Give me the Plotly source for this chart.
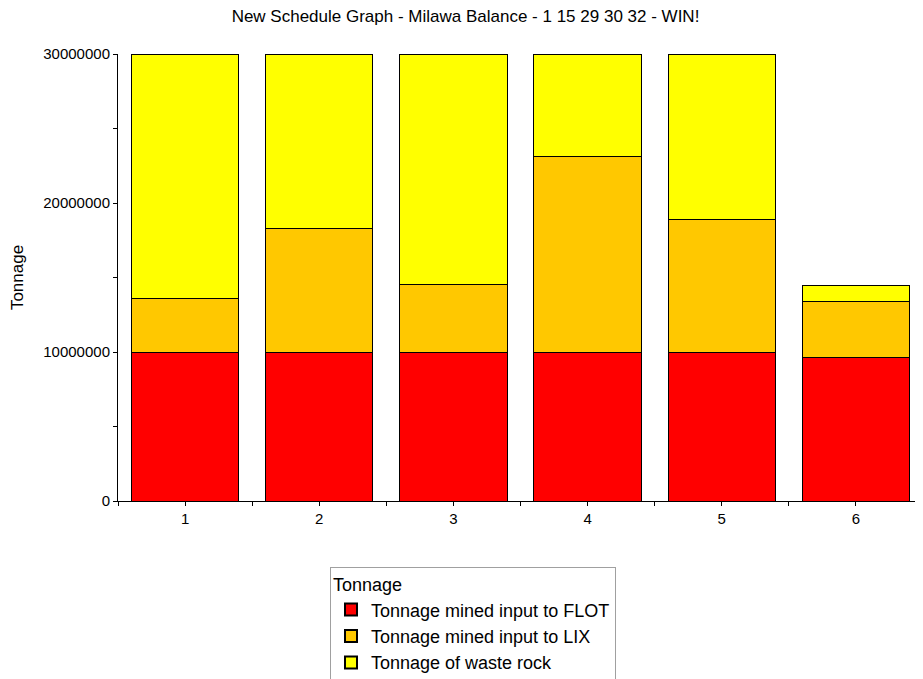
import plotly.graph_objects as go

periods = [1, 2, 3, 4, 5, 6]
flot = [10000000, 10000000, 10000000, 10000000, 10000000, 9600000]
lix = [3620000, 8320000, 4500000, 13090000, 8860000, 3760000]
waste = [16380000, 11680000, 15500000, 6910000, 11140000, 1070000]
series_names = ["Tonnage mined input to FLOT", "Tonnage mined input to LIX", "Tonnage of waste rock"]
colors = ["#FF0000", "#FFC800", "#FFFF00"]

fig = go.Figure()
for name, vals, col in zip(series_names, [flot, lix, waste], colors):
    fig.add_trace(go.Bar(x=periods, y=vals, name=name, width=0.8,
                         marker=dict(color=col, line=dict(color="#000000", width=1))))

font_family = "Liberation Sans, Arial, sans-serif"
W, H = 915, 671
fig.update_layout(
    barmode="stack",
    width=W, height=H,
    margin=dict(l=110, r=0, t=46, b=178),
    plot_bgcolor="white", paper_bgcolor="white",
    font=dict(family=font_family, size=15, color="#000000"),
    title=dict(text="New Schedule Graph - Milawa Balance - 1 15 29 30 32 - WIN!",
               x=0.5, xanchor="center", yref="container", y=1 - 8 / H, yanchor="middle",
               font=dict(size=17, color="#000000")),
    xaxis=dict(range=[0.5, 6.5], tickvals=periods, ticktext=[str(p) for p in periods],
               showline=True, linecolor="#000000", linewidth=1,
               ticks="outside", ticklen=4, tickcolor="#000000",
               minor=dict(dtick=0.5, tick0=0.5, ticks="outside", ticklen=4, tickcolor="#000000"),
               showgrid=False, zeroline=False, tickfont=dict(size=15)),
    yaxis=dict(range=[0, 30000000], tickvals=[0, 10000000, 20000000, 30000000],
               ticktext=["0", "10000000", "20000000", "30000000"],
               showline=True, linecolor="#000000", linewidth=1,
               ticks="outside", ticklen=4, tickcolor="#000000",
               minor=dict(dtick=5000000, ticks="outside", ticklen=4, tickcolor="#000000"),
               showgrid=False, zeroline=False, tickfont=dict(size=15),
               title=dict(text="Tonnage", font=dict(size=17), standoff=18)),
    legend=dict(title=dict(text="Tonnage", font=dict(size=18)),
                xref="paper", yref="container",
                x=(330 - 118) / 805, xanchor="left", y=1 - (567 - 8) / H, yanchor="top",
                bordercolor="#A0A0A0", borderwidth=1, bgcolor="white",
                traceorder="normal", font=dict(size=18), itemsizing="constant",
                itemwidth=30),
    showlegend=True,
)
fig.write_html("out.html")
